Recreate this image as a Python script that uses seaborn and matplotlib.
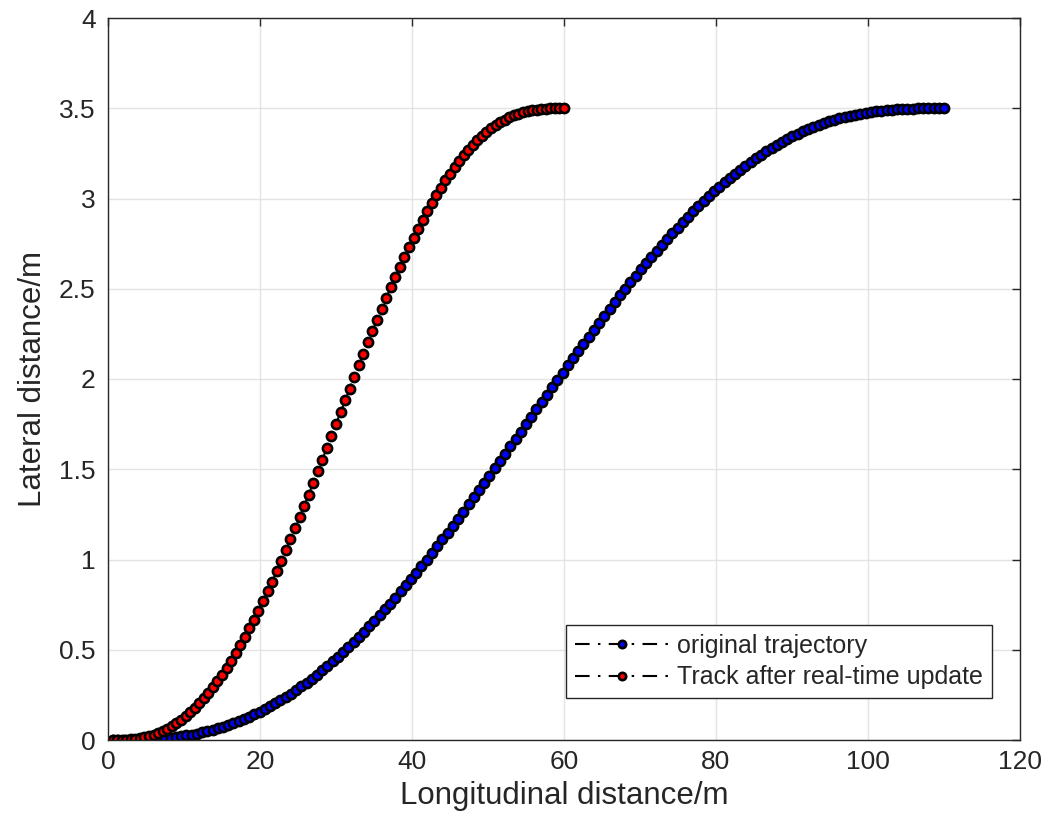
import matplotlib
matplotlib.use("Agg")
import matplotlib.pyplot as plt
import matplotlib.ticker as mticker
import seaborn as sns
import pandas as pd

# ---------------- data ----------------
orig_x = [0.69, 1.38, 2.06, 2.75, 3.44, 4.13, 4.81, 5.5,
          6.19, 6.88, 7.56, 8.25, 8.94, 9.63, 10.31, 11.0,
          11.69, 12.38, 13.06, 13.75, 14.44, 15.13, 15.81, 16.5,
          17.19, 17.88, 18.56, 19.25, 19.94, 20.63, 21.31, 22.0,
          22.69, 23.38, 24.06, 24.75, 25.44, 26.13, 26.81, 27.5,
          28.19, 28.88, 29.56, 30.25, 30.94, 31.63, 32.31, 33.0,
          33.69, 34.38, 35.06, 35.75, 36.44, 37.13, 37.81, 38.5,
          39.19, 39.88, 40.56, 41.25, 41.94, 42.63, 43.31, 44.0,
          44.69, 45.38, 46.06, 46.75, 47.44, 48.13, 48.81, 49.5,
          50.19, 50.88, 51.56, 52.25, 52.94, 53.63, 54.31, 55.0,
          55.69, 56.38, 57.06, 57.75, 58.44, 59.13, 59.81, 60.5,
          61.19, 61.88, 62.56, 63.25, 63.94, 64.63, 65.31, 66.0,
          66.69, 67.38, 68.06, 68.75, 69.44, 70.13, 70.81, 71.5,
          72.19, 72.88, 73.56, 74.25, 74.94, 75.63, 76.31, 77.0,
          77.69, 78.38, 79.06, 79.75, 80.44, 81.13, 81.81, 82.5,
          83.19, 83.88, 84.56, 85.25, 85.94, 86.63, 87.31, 88.0,
          88.69, 89.38, 90.06, 90.75, 91.44, 92.13, 92.81, 93.5,
          94.19, 94.88, 95.56, 96.25, 96.94, 97.63, 98.31, 99.0,
          99.69, 100.38, 101.06, 101.75, 102.44, 103.13, 103.81, 104.5,
          105.19, 105.88, 106.56, 107.25, 107.94, 108.63, 109.31, 110.0]
orig_y = [0.000, 0.000, 0.000, 0.001, 0.001, 0.002, 0.003, 0.004,
          0.006, 0.008, 0.010, 0.013, 0.017, 0.021, 0.025, 0.030,
          0.036, 0.042, 0.049, 0.056, 0.064, 0.073, 0.083, 0.093,
          0.104, 0.116, 0.129, 0.142, 0.156, 0.171, 0.186, 0.203,
          0.220, 0.238, 0.257, 0.276, 0.297, 0.318, 0.340, 0.362,
          0.386, 0.410, 0.435, 0.461, 0.487, 0.514, 0.542, 0.571,
          0.600, 0.630, 0.661, 0.692, 0.724, 0.756, 0.789, 0.823,
          0.857, 0.892, 0.927, 0.963, 1.000, 1.036, 1.073, 1.111,
          1.149, 1.187, 1.226, 1.265, 1.305, 1.344, 1.384, 1.424,
          1.464, 1.505, 1.546, 1.586, 1.627, 1.668, 1.709, 1.750,
          1.791, 1.832, 1.873, 1.914, 1.955, 1.995, 2.036, 2.076,
          2.116, 2.156, 2.196, 2.235, 2.274, 2.313, 2.351, 2.389,
          2.427, 2.464, 2.500, 2.537, 2.573, 2.608, 2.643, 2.677,
          2.711, 2.744, 2.776, 2.808, 2.839, 2.870, 2.900, 2.929,
          2.958, 2.986, 3.013, 3.039, 3.065, 3.090, 3.114, 3.138,
          3.160, 3.182, 3.203, 3.224, 3.243, 3.262, 3.280, 3.297,
          3.314, 3.329, 3.344, 3.358, 3.372, 3.384, 3.396, 3.407,
          3.417, 3.427, 3.436, 3.444, 3.451, 3.458, 3.464, 3.470,
          3.475, 3.480, 3.483, 3.487, 3.490, 3.492, 3.494, 3.496,
          3.497, 3.498, 3.499, 3.500, 3.500, 3.500, 3.500, 3.500]

upd_x = [0.6, 1.2, 1.8, 2.4, 3.0, 3.6, 4.2, 4.8, 5.4, 6.0,
         6.6, 7.2, 7.8, 8.4, 9.0, 9.6, 10.2, 10.8, 11.4, 12.0,
         12.6, 13.2, 13.8, 14.4, 15.0, 15.6, 16.2, 16.8, 17.4, 18.0,
         18.6, 19.2, 19.8, 20.4, 21.0, 21.6, 22.2, 22.8, 23.4, 24.0,
         24.6, 25.2, 25.8, 26.4, 27.0, 27.6, 28.2, 28.8, 29.4, 30.0,
         30.6, 31.2, 31.8, 32.4, 33.0, 33.6, 34.2, 34.8, 35.4, 36.0,
         36.6, 37.2, 37.8, 38.4, 39.0, 39.6, 40.2, 40.8, 41.4, 42.0,
         42.6, 43.2, 43.8, 44.4, 45.0, 45.6, 46.2, 46.8, 47.4, 48.0,
         48.6, 49.2, 49.8, 50.4, 51.0, 51.6, 52.2, 52.8, 53.4, 54.0,
         54.6, 55.2, 55.8, 56.4, 57.0, 57.6, 58.2, 58.8, 59.4, 60.0]
upd_y = [0.000, 0.000, 0.001, 0.002, 0.004, 0.007, 0.011, 0.016, 0.022, 0.030,
         0.039, 0.050, 0.063, 0.077, 0.093, 0.111, 0.131, 0.153, 0.177, 0.203,
         0.231, 0.261, 0.292, 0.326, 0.362, 0.400, 0.440, 0.482, 0.525, 0.571,
         0.618, 0.667, 0.717, 0.770, 0.823, 0.878, 0.935, 0.992, 1.051, 1.111,
         1.172, 1.234, 1.297, 1.360, 1.424, 1.489, 1.554, 1.619, 1.684, 1.750,
         1.816, 1.881, 1.946, 2.011, 2.076, 2.140, 2.203, 2.266, 2.328, 2.389,
         2.449, 2.508, 2.566, 2.622, 2.677, 2.731, 2.783, 2.833, 2.882, 2.929,
         2.975, 3.018, 3.060, 3.100, 3.138, 3.174, 3.208, 3.240, 3.269, 3.297,
         3.323, 3.347, 3.369, 3.389, 3.407, 3.423, 3.437, 3.450, 3.461, 3.470,
         3.478, 3.484, 3.489, 3.493, 3.496, 3.498, 3.499, 3.500, 3.500, 3.500]

labels = ["original trajectory", "Track after real-time update"]
x_ticks = [0, 20, 40, 60, 80, 100, 120]
y_ticks = [0, 0.5, 1, 1.5, 2, 2.5, 3, 3.5, 4]

# ---------------- style ----------------
sns.set_theme(style="white")
plt.rcParams["font.family"] = ["Liberation Sans", "DejaVu Sans"]
plt.rcParams["xtick.direction"] = "in"
plt.rcParams["ytick.direction"] = "in"

fig = plt.figure(figsize=(10.61, 8.27), dpi=100)
ax = fig.add_axes([108 / 1061, 1 - 740 / 827, (1020 - 108) / 1061, (740 - 18) / 827])

df_o = pd.DataFrame({"x": orig_x, "y": orig_y})
df_u = pd.DataFrame({"x": upd_x, "y": upd_y})

dashdot = (0, (7, 4, 1.2, 4))
common = dict(estimator=None, sort=False, color="black", linestyle=dashdot,
              linewidth=1.5, marker="o", markersize=6.6,
              markeredgecolor="black", markeredgewidth=1.9)
sns.lineplot(data=df_o, x="x", y="y", ax=ax, markerfacecolor="blue", **common)
sns.lineplot(data=df_u, x="x", y="y", ax=ax, markerfacecolor="red", **common)

ax.set_xlim(0, 120)
ax.set_ylim(0, 4)
ax.set_xticks(x_ticks)
ax.set_yticks(y_ticks)
ax.yaxis.set_major_formatter(mticker.FuncFormatter(lambda v, p: f"{v:g}"))
ax.grid(True, color="#e3e3e3", linewidth=1.0)
ax.set_axisbelow(True)
for s in ax.spines.values():
    s.set_linewidth(1.0)
    s.set_color("#262626")
ax.tick_params(axis="both", which="both", direction="in", length=6, width=1.0,
               colors="#262626", labelcolor="#262626", labelsize=19,
               top=True, right=True)
ax.tick_params(axis="y", pad=9)
ax.tick_params(axis="x", pad=7)

ax.set_xlabel("Longitudinal distance/m", fontsize=22.5, color="#262626", labelpad=5)
ax.set_ylabel("Lateral distance/m", fontsize=22.5, color="#262626", labelpad=8)

lines = ax.get_lines()
leg = ax.legend(lines[:2], labels, loc="lower right",
                bbox_to_anchor=(992 / 1061, 1 - 698 / 827),
                bbox_transform=fig.transFigure,
                fontsize=18, frameon=True, fancybox=False, framealpha=1,
                edgecolor="#262626", handlelength=3.8, handletextpad=0.3,
                borderpad=0.35, labelspacing=0.3, borderaxespad=0,
                markerscale=0.8)
leg.get_frame().set_linewidth(1.0)

fig.savefig("out.png", dpi=100)
